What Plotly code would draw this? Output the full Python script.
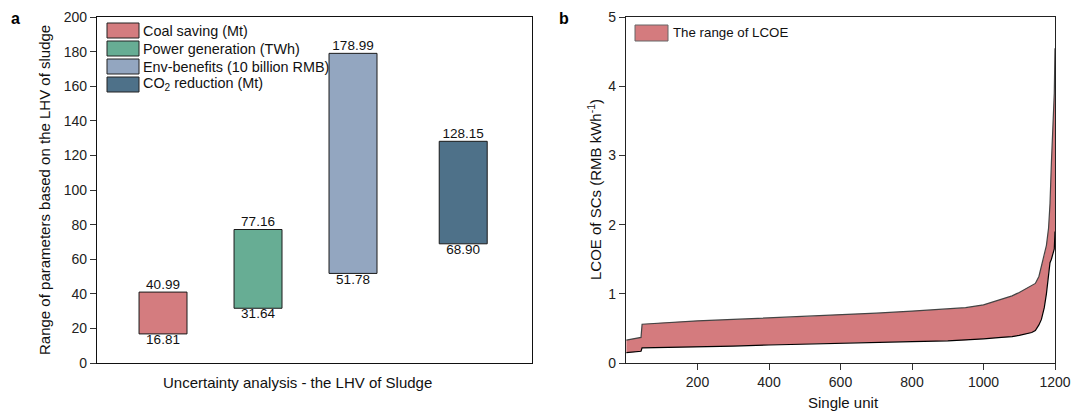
import plotly.graph_objects as go

# ---------------- data ----------------
bar_names = ["Coal saving (Mt)", "Power generation (TWh)",
             "Env-benefits (10 billion RMB)", "CO<sub>2</sub> reduction (Mt)"]
bar_low = [16.81, 31.64, 51.78, 68.90]
bar_high = [40.99, 77.16, 178.99, 128.15]
bar_colors = ["#D47C7F", "#67AD94", "#93A6C0", "#4E7189"]
bar_pos = [1.0, 2.0, 3.0, 4.16]

units = [1, 20, 42, 45, 100, 200, 300, 400, 500, 600, 700, 800, 900, 950,
         1000, 1050, 1080, 1100, 1120, 1135, 1145, 1155, 1162, 1170, 1176,
         1182, 1186, 1190, 1194, 1198, 1200]
lcoe_upper = [0.33, 0.35, 0.37, 0.56, 0.58, 0.61, 0.63, 0.65, 0.67, 0.70,
              0.72, 0.75, 0.78, 0.80, 0.84, 0.92, 0.97, 1.02, 1.08, 1.12,
              1.15, 1.25, 1.40, 1.55, 1.70, 1.95, 2.30, 2.90, 3.40, 3.90, 4.55]
lcoe_lower = [0.15, 0.155, 0.17, 0.22, 0.225, 0.23, 0.245, 0.26, 0.275,
              0.29, 0.30, 0.31, 0.32, 0.33, 0.35, 0.37, 0.38, 0.40, 0.42,
              0.44, 0.47, 0.55, 0.63, 0.80, 1.00, 1.30, 1.45, 1.50, 1.58,
              1.65, 1.90]

W, H = 1071, 412
FONT = "Liberation Sans, Arial, sans-serif"

def px(xp):
    return xp / W

def py(yp):
    return 1 - yp / H

fig = go.Figure()

# ---------------- panel a ----------------
for i in range(4):
    fig.add_trace(go.Bar(
        x=[bar_pos[i]], y=[bar_high[i] - bar_low[i]], base=[bar_low[i]],
        width=0.505, marker=dict(color=bar_colors[i],
                                 line=dict(color="#1a1a1a", width=1)),
        name=bar_names[i], showlegend=False, xaxis="x", yaxis="y",
        hoverinfo="skip"))

fig.add_trace(go.Scatter(
    x=bar_pos, y=bar_high, mode="text",
    text=[f"{v:.2f}" for v in bar_high], textposition="top center",
    textfont=dict(size=13.5, color="#111", family=FONT),
    showlegend=False, xaxis="x", yaxis="y", hoverinfo="skip"))
fig.add_trace(go.Scatter(
    x=bar_pos, y=bar_low, mode="text",
    text=[f"{v:.2f}" for v in bar_low], textposition="bottom center",
    textfont=dict(size=13.5, color="#111", family=FONT),
    showlegend=False, xaxis="x", yaxis="y", hoverinfo="skip"))

# ---------------- panel b ----------------
fig.add_trace(go.Scatter(
    x=units + units[::-1], y=lcoe_upper + lcoe_lower[::-1],
    fill="toself", fillcolor="#D47B7E", mode="none",
    showlegend=False, xaxis="x2", yaxis="y2", hoverinfo="skip"))
fig.add_trace(go.Scatter(
    x=units, y=lcoe_upper, mode="lines",
    line=dict(color="#444", width=1.2),
    showlegend=False, xaxis="x2", yaxis="y2", hoverinfo="skip"))
fig.add_trace(go.Scatter(
    x=units, y=lcoe_lower, mode="lines",
    line=dict(color="#000", width=1.2),
    showlegend=False, xaxis="x2", yaxis="y2", hoverinfo="skip"))

# ---------------- legends (manual) ----------------
shapes = []
annotations = []
leg_y = [23, 41, 59, 77]
for i in range(4):
    shapes.append(dict(type="rect", xref="paper", yref="paper",
                       x0=px(107), x1=px(139), y0=py(leg_y[i]), y1=py(leg_y[i] + 15),
                       fillcolor=bar_colors[i], line=dict(color="#222", width=1)))
    annotations.append(dict(xref="paper", yref="paper", x=px(141),
                            y=py(leg_y[i] + 7.5), text=bar_names[i],
                            showarrow=False, xanchor="left", yanchor="middle",
                            font=dict(size=14.4, color="#111", family=FONT)))
shapes.append(dict(type="rect", xref="paper", yref="paper",
                   x0=px(635), x1=px(668), y0=py(25), y1=py(41),
                   fillcolor="#D47B7E", line=dict(color="#666", width=1)))
annotations.append(dict(xref="paper", yref="paper", x=px(671), y=py(33),
                        text="The range of LCOE", showarrow=False,
                        xanchor="left", yanchor="middle",
                        font=dict(size=13.3, color="#111", family=FONT)))

# axis titles and panel labels
annotations += [
    dict(xref="paper", yref="paper", x=px(15), y=py(19), text="<b>a</b>",
         showarrow=False, xanchor="center", yanchor="middle",
         font=dict(size=16, color="#000", family=FONT)),
    dict(xref="paper", yref="paper", x=px(564), y=py(19), text="<b>b</b>",
         showarrow=False, xanchor="center", yanchor="middle",
         font=dict(size=16, color="#000", family=FONT)),
    dict(xref="paper", yref="paper", x=px(44), y=py(190),
         text="Range of parameters based on the LHV of sludge",
         textangle=-90, showarrow=False, xanchor="center", yanchor="middle",
         font=dict(size=15, color="#111", family=FONT)),
    dict(xref="paper", yref="paper", x=px(297), y=py(382),
         text="Uncertainty analysis - the LHV of Sludge",
         showarrow=False, xanchor="center", yanchor="middle",
         font=dict(size=15, color="#111", family=FONT)),
    dict(xref="paper", yref="paper", x=px(594), y=py(190),
         text="LCOE of SCs (RMB kWh<sup>-1</sup>)",
         textangle=-90, showarrow=False, xanchor="center", yanchor="middle",
         font=dict(size=15, color="#111", family=FONT)),
    dict(xref="paper", yref="paper", x=px(843), y=py(402),
         text="Single unit", showarrow=False, xanchor="center",
         yanchor="middle", font=dict(size=15, color="#111", family=FONT)),
]

axis_common = dict(showgrid=False, zeroline=False, showline=True,
                   linewidth=1.2, mirror=True, automargin=False,
                   tickcolor="#333")

fig.update_layout(
    template="none",
    width=W, height=H, margin=dict(l=0, r=0, t=0, b=0, pad=0, autoexpand=False),
    paper_bgcolor="white", plot_bgcolor="white",
    font=dict(family=FONT, size=14, color="#111"),
    shapes=shapes, annotations=annotations, showlegend=False,
    barmode="overlay",
    xaxis=dict(domain=[px(97), px(532)], range=[0.305, 4.884],
               showticklabels=False, ticks="", linecolor="#111",
               anchor="y", **axis_common),
    yaxis=dict(domain=[py(363), py(17)], range=[0, 200], dtick=20,
               ticks="outside", ticklen=6, linecolor="#111", anchor="x",
               tickfont=dict(size=14, color="#222"), **axis_common),
    xaxis2=dict(domain=[px(626), px(1055)], range=[0, 1200],
                tickvals=[200, 400, 600, 800, 1000, 1200],
                ticks="outside", ticklen=6, linecolor="#222", anchor="y2",
                tickfont=dict(size=14, color="#222"), **axis_common),
    yaxis2=dict(domain=[py(363), py(17)], range=[0, 5], dtick=1,
                ticks="outside", ticklen=6, linecolor="#222", anchor="x2",
                tickfont=dict(size=14, color="#222"), **axis_common),
)

fig.write_html("out.html",
               post_script="document.body.style.margin='0';"
                           "document.body.style.overflow='hidden';")
